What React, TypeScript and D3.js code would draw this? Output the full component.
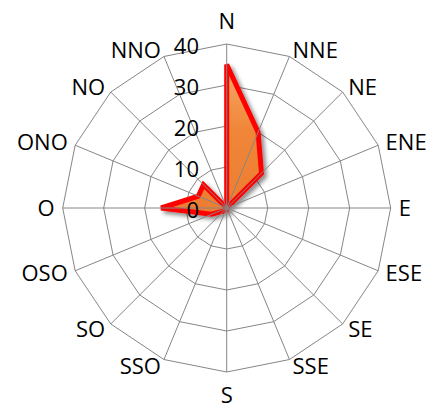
import React from "react";
import * as d3 from "d3";

const categories = ["N", "NNE", "NE", "ENE", "E", "ESE", "SE", "SSE", "S", "SSO", "SO", "OSO", "O", "ONO", "NO", "NNO"];
const values = [35, 20, 12, 0, 0, 0, 0, 0, 0, 0, 1, 4, 16, 7.5, 8, 0];
const ticks = [0, 10, 20, 30, 40];

const W = 428;
const H = 405;
const cx = 226.7;
const cy = 208;
const R = 164;
const FONT = "'Open Sans', 'Liberation Sans', sans-serif";

export default function App() {
  const n = categories.length;
  const r = d3.scaleLinear().domain([0, 40]).range([0, R]);
  const ang = (i: number) => (i * 2 * Math.PI) / n;

  const ringLine = d3
    .lineRadial<number>()
    .angle((_, i) => ang(i))
    .radius((d) => r(d))
    .curve(d3.curveLinearClosed);

  const areaPath = ringLine(values) || "";

  return (
    <svg
      width={W}
      height={H}
      style={{ position: "absolute", left: 0, top: 0, background: "#fff" }}
    >
      <defs>
        <linearGradient id="fillGrad" gradientUnits="userSpaceOnUse" x1="0" y1={-r(35)} x2="0" y2={0}>
          <stop offset="0" stopColor="#F7A96C" />
          <stop offset="0.45" stopColor="#F08638" />
          <stop offset="1" stopColor="#ED7D31" />
        </linearGradient>
        <filter id="shadow" x="-50%" y="-50%" width="200%" height="200%">
          <feDropShadow dx="3" dy="3" stdDeviation="2.2" floodColor="#000" floodOpacity="0.45" />
        </filter>
      </defs>
      <g transform={`translate(${cx},${cy})`}>
        {ticks
          .filter((t) => t > 0)
          .map((t) => (
            <path
              key={"ring" + t}
              d={ringLine(categories.map(() => t)) || ""}
              fill="none"
              stroke="#868686"
              strokeWidth={1}
            />
          ))}
        <path
          d={areaPath}
          fill="url(#fillGrad)"
          stroke="#FF0000"
          strokeWidth={5}
          strokeLinejoin="miter"
          filter="url(#shadow)"
        />
        {categories.map((c, i) => {
          const a = ang(i);
          return (
            <line
              key={"spoke" + c}
              x1={0}
              y1={0}
              x2={R * Math.sin(a)}
              y2={-R * Math.cos(a)}
              stroke="#868686"
              strokeWidth={1}
            />
          );
        })}
        {ticks.map((t) => (
          <text
            key={"tick" + t}
            x={-27.7}
            y={-r(t) + 10}
            textAnchor="end"
            fontFamily={FONT}
            fontSize={22}
            fill="#000"
          >
            {t}
          </text>
        ))}
        {categories.map((c, i) => {
          const a = ang(i);
          const dx = Math.sin(a);
          const dy = -Math.cos(a);
          const vx = R * dx;
          const vy = R * dy;
          let x: number, cyL: number, anchor: "start" | "middle" | "end";
          if (Math.abs(dx) < 0.01) {
            x = vx;
            cyL = vy + dy * 23;
            anchor = "middle";
          } else {
            x = vx + dx * 8;
            cyL = vy + dy * 7;
            anchor = dx > 0 ? "start" : "end";
          }
          return (
            <text
              key={"lab" + c}
              x={x}
              y={cyL + 7.85}
              textAnchor={anchor}
              fontFamily={FONT}
              fontSize={22}
              fill="#000"
            >
              {c}
            </text>
          );
        })}
      </g>
    </svg>
  );
}
